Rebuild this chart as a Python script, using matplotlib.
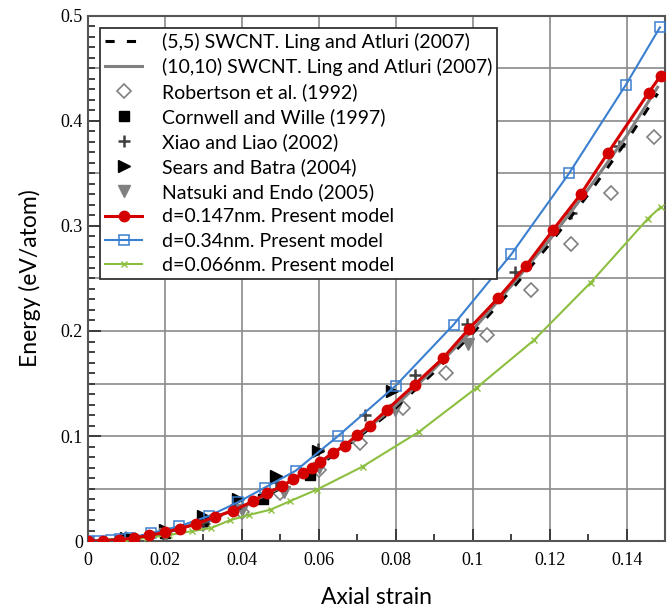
import matplotlib
matplotlib.use("Agg")
import matplotlib.pyplot as plt
from matplotlib.ticker import MultipleLocator

# reference curves of Ling and Atluri (2007)
ling_strain = [0, 0.01, 0.02, 0.03, 0.04, 0.05, 0.06, 0.07, 0.08, 0.09, 0.10, 0.11, 0.12, 0.13, 0.14, 0.148]
ling55 = [0, 0.002, 0.008, 0.018, 0.032, 0.050, 0.072, 0.098, 0.127, 0.161, 0.198, 0.239, 0.283, 0.330, 0.381, 0.426]
ling1010 = [0, 0.002, 0.0083, 0.0185, 0.0325, 0.051, 0.0735, 0.0995, 0.129, 0.164, 0.201, 0.243, 0.287, 0.335, 0.386, 0.432]

# other studies (scattered data)
rob_x = [0.01, 0.02, 0.03, 0.04, 0.050, 0.060, 0.0706, 0.082, 0.093, 0.1036, 0.115, 0.1255, 0.136, 0.147]
rob_y = [0.002, 0.007, 0.016, 0.028, 0.046, 0.068, 0.093, 0.127, 0.160, 0.196, 0.239, 0.283, 0.331, 0.385]
corn_x = [0.01, 0.02, 0.03, 0.0455, 0.0577]
corn_y = [0.002, 0.008, 0.019, 0.040, 0.063]
xiao_x = [0.0115, 0.0195, 0.03, 0.0385, 0.049, 0.0598, 0.072, 0.085, 0.0985, 0.111, 0.1255, 0.138]
xiao_y = [0.003, 0.008, 0.018, 0.034, 0.056, 0.088, 0.120, 0.158, 0.207, 0.256, 0.312, 0.376]
sears_x = [0.01, 0.02, 0.03, 0.039, 0.049, 0.0598, 0.079]
sears_y = [0.003, 0.011, 0.024, 0.040, 0.062, 0.086, 0.143]
nats_x = [0.02, 0.04, 0.051, 0.06, 0.0797, 0.0987]
nats_y = [0.007, 0.030, 0.047, 0.070, 0.125, 0.188]

# present model
red_x = [0, 0.004, 0.008, 0.012, 0.016, 0.020, 0.024, 0.028, 0.033, 0.0377, 0.043, 0.0465, 0.0504,
         0.0533, 0.056, 0.0582, 0.0603, 0.0636, 0.0668, 0.0699, 0.0732, 0.0777, 0.0849, 0.0922,
         0.099, 0.1065, 0.1138, 0.1208, 0.128, 0.135, 0.1457, 0.1488]
red_y = [0, 0.0003, 0.0013, 0.003, 0.0054, 0.0085, 0.012, 0.016, 0.023, 0.029, 0.038, 0.046, 0.052,
         0.059, 0.065, 0.070, 0.075, 0.084, 0.091, 0.101, 0.110, 0.125, 0.149, 0.174,
         0.202, 0.231, 0.262, 0.296, 0.330, 0.369, 0.427, 0.443]
blue_x = [0, 0.003, 0.006, 0.0085, 0.011, 0.0164, 0.0237, 0.0315, 0.039, 0.046, 0.054, 0.065,
          0.080, 0.095, 0.110, 0.125, 0.1397, 0.1486]
blue_y = [0, 0.0002, 0.0008, 0.0016, 0.003, 0.0076, 0.014, 0.024, 0.037, 0.051, 0.067, 0.100,
          0.148, 0.206, 0.273, 0.350, 0.434, 0.489]
green_x = [0, 0.005, 0.010, 0.0153, 0.021, 0.027, 0.032, 0.037, 0.042, 0.0475, 0.0525, 0.0595,
           0.0714, 0.086, 0.101, 0.1158, 0.1306, 0.1455, 0.1488]
green_y = [0, 0.0003, 0.0013, 0.003, 0.0057, 0.0095, 0.0124, 0.020, 0.025, 0.030, 0.038, 0.049,
           0.071, 0.104, 0.146, 0.191, 0.246, 0.307, 0.318]

plt.rcParams['font.family'] = ['Lato', 'DejaVu Sans']

fig = plt.figure(figsize=(6.7, 6.08), dpi=100)
ax = fig.add_axes([0.131, 0.110, 0.862, 0.864])

grid_c = '#8a8a8a'
for gy in [0.05, 0.1, 0.15, 0.2, 0.25, 0.3, 0.35, 0.4, 0.45]:
    ax.axhline(gy, color=grid_c, lw=1.2, zorder=0)
for gx in [0.02, 0.04, 0.06, 0.08, 0.10, 0.12, 0.14]:
    ax.axvline(gx, color=grid_c, lw=1.2, zorder=0)

ax.plot(ling_strain, ling55, color='black', ls=(0, (3, 4)), lw=2.2,
        label='(5,5) SWCNT. Ling and Atluri (2007)', zorder=3)
ax.plot(ling_strain, ling1010, color='#808080', lw=2.2,
        label='(10,10) SWCNT. Ling and Atluri (2007)', zorder=3)
ax.plot(rob_x, rob_y, ls='none', marker='D', ms=7, mfc='white', mec='#808080', mew=1.2,
        label='Robertson et al. (1992)', zorder=2)
ax.plot(corn_x, corn_y, ls='none', marker='s', ms=7, color='black',
        label='Cornwell and Wille (1997)', zorder=2)
ax.plot(xiao_x, xiao_y, ls='none', marker='+', ms=9, mew=1.8, color='#404040',
        label='Xiao and Liao (2002)', zorder=2)
ax.plot(sears_x, sears_y, ls='none', marker='>', ms=8, color='black',
        label='Sears and Batra (2004)', zorder=2)
ax.plot(nats_x, nats_y, ls='none', marker='v', ms=8, color='#808080',
        label='Natsuki and Endo (2005)', zorder=2)
ax.plot(red_x, red_y, color='#d40000', lw=2.2, marker='o', ms=7.5,
        label='d=0.147nm. Present model', zorder=5)
ax.plot(blue_x, blue_y, color='#3a7fd0', lw=1.5, marker='s', ms=7, mfc='none', mew=1.1,
        label='d=0.34nm. Present model', zorder=4)
ax.plot(green_x, green_y, color='#8cbf3f', lw=1.5, marker='x', ms=5, mew=1.0,
        label='d=0.066nm. Present model', zorder=4)

ax.set_xlim(0, 0.15)
ax.set_ylim(0, 0.5)
ax.xaxis.set_minor_locator(MultipleLocator(0.01))
ax.yaxis.set_minor_locator(MultipleLocator(0.01))
ax.set_xticks([0, 0.02, 0.04, 0.06, 0.08, 0.1, 0.12, 0.14])
ax.set_xticklabels(['0', '0.02', '0.04', '0.06', '0.08', '0.1', '0.12', '0.14'])
ax.set_yticks([0, 0.1, 0.2, 0.3, 0.4, 0.5])
ax.set_yticklabels(['0', '0.1', '0.2', '0.3', '0.4', '0.5'])
ax.tick_params(which='both', direction='in', color='#333333', width=1.3)
ax.tick_params(which='major', length=9)
ax.tick_params(which='minor', length=5)
ax.tick_params(axis='x', pad=8)
for lab in ax.get_xticklabels() + ax.get_yticklabels():
    lab.set_family('Liberation Serif')
    lab.set_fontsize(13)
for s in ax.spines.values():
    s.set_color('#555555')
    s.set_linewidth(1.5)

ax.set_xlabel('Axial strain', fontsize=16.5, labelpad=13)
ax.set_ylabel('Energy (eV/atom)', fontsize=16.5, labelpad=14)

leg = ax.legend(loc='upper left', bbox_to_anchor=(0.015, 0.985), fontsize=14,
                frameon=True, fancybox=False, edgecolor='#333333', framealpha=1,
                handlelength=1.9, handletextpad=1.0, labelspacing=0.37,
                borderpad=0.25, borderaxespad=0.2)
leg.get_frame().set_linewidth(1.3)

fig.savefig('out.png', dpi=100)
